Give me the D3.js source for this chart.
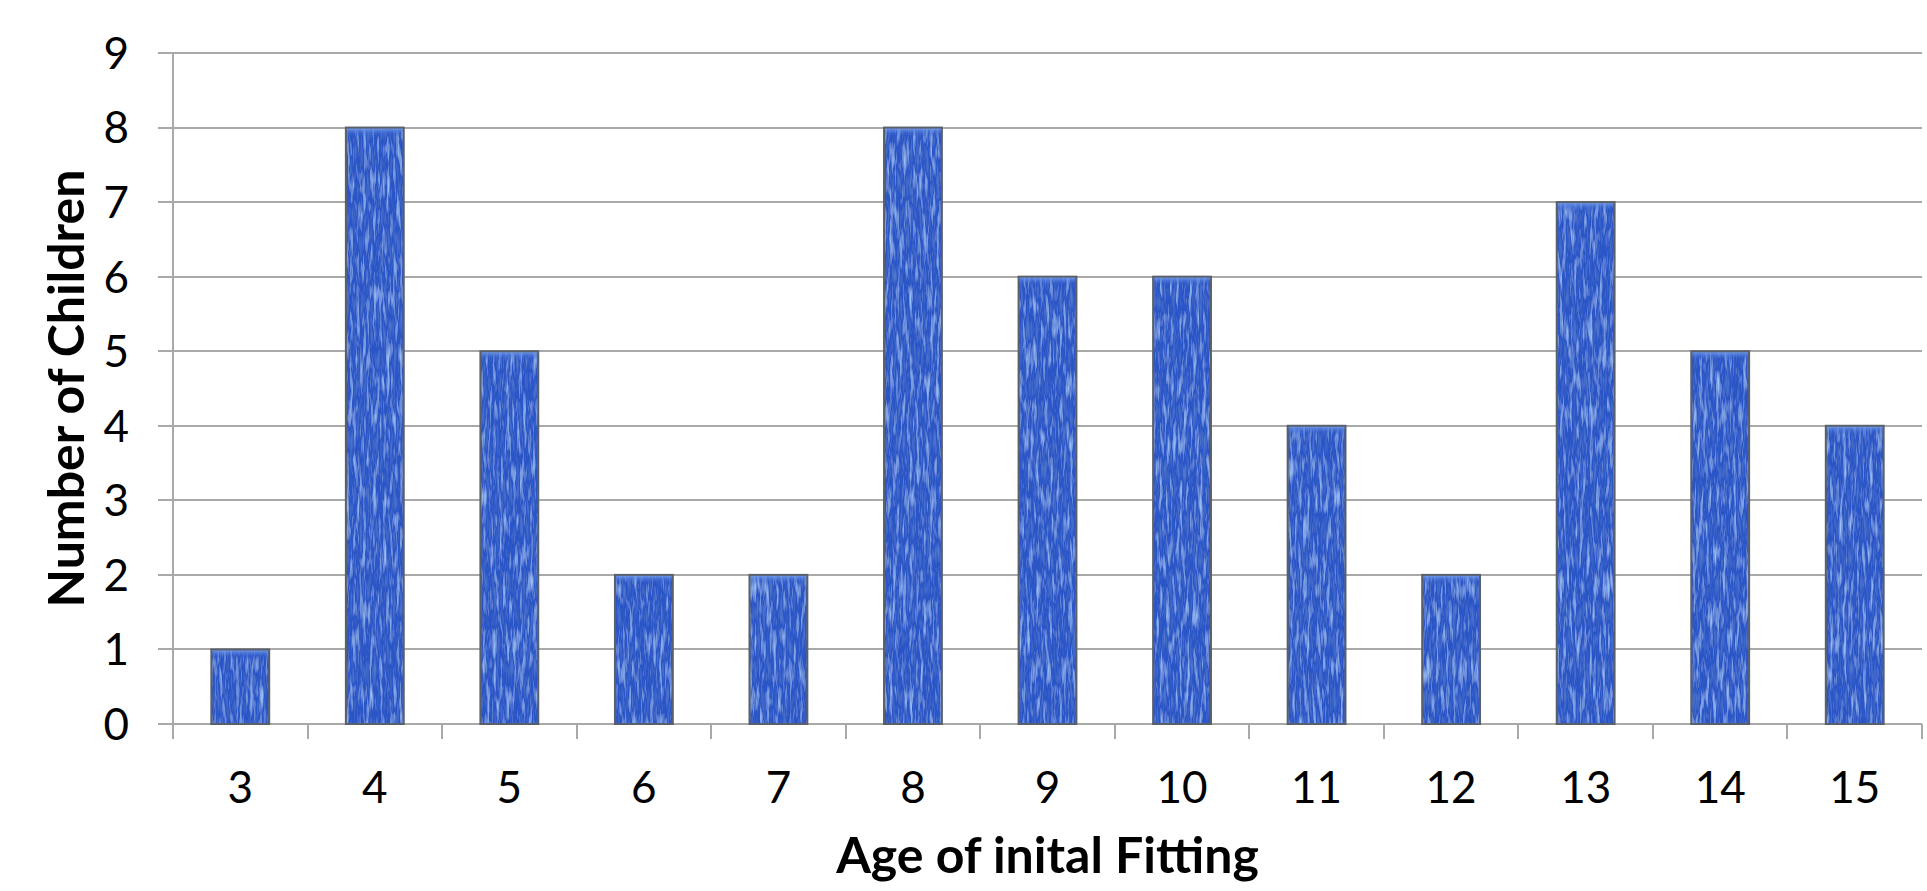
<!DOCTYPE html>
<html lang="en">
<head>
    <meta charset="UTF-8">
    <title>Age of initial fitting</title>
    <script src="https://d3js.org/d3.v7.min.js"></script>
    <style>
        body {
            margin: 0;
            overflow: hidden;
            background: #fff;
        }
        svg {
            display: block;
        }
        .grid-line, .axis-line, .tick-mark {
            stroke: #a9a9a9;
            stroke-width: 2;
            shape-rendering: crispEdges;
        }
        .tick-label {
            font-family: Lato, "Open Sans", sans-serif;
            font-size: 44px;
            fill: #000;
        }
        .axis-title {
            font-family: Lato, "Open Sans", sans-serif;
            font-weight: bold;
            font-size: 50px;
            fill: #000;
        }
    </style>
</head>
<body>
    <script>
        // data
        const ages = ["3", "4", "5", "6", "7", "8", "9", "10", "11", "12", "13", "14", "15"];
        const children = [1, 8, 5, 2, 2, 8, 6, 6, 4, 2, 7, 5, 4];
        const yTicks = [0, 1, 2, 3, 4, 5, 6, 7, 8, 9];

        const width = 1927;
        const height = 891;
        const margin = {left: 173, right: 5, top: 53, bottom: 167};

        let svg = d3.select("body").append("svg")
            .attr("width", width)
            .attr("height", height);

        // bar texture
        let defs = svg.append("defs");
        let filter = defs.append("filter").attr("id", "tex")
            .attr("x", 0).attr("y", 0).attr("width", 1).attr("height", 1);
        filter.append("feTurbulence")
            .attr("type", "fractalNoise")
            .attr("baseFrequency", "0.3 0.035")
            .attr("numOctaves", 3)
            .attr("seed", 7)
            .attr("result", "noise");
        filter.append("feColorMatrix")
            .attr("in", "noise")
            .attr("type", "matrix")
            .attr("values", "0 0 0 0 0.36  0 0 0 0 0.58  0 0 0 0 0.95  2.4 0 0 0 -1.2")
            .attr("result", "light");
        filter.append("feColorMatrix")
            .attr("in", "noise")
            .attr("type", "matrix")
            .attr("values", "0 0 0 0 0.1  0 0 0 0 0.22  0 0 0 0 0.62  -2.4 0 0 0 1.1")
            .attr("result", "dark");
        filter.append("feComposite").attr("in", "light").attr("in2", "SourceGraphic").attr("operator", "in").attr("result", "light2");
        filter.append("feComposite").attr("in", "dark").attr("in2", "SourceGraphic").attr("operator", "in").attr("result", "dark2");
        let merge = filter.append("feMerge");
        merge.append("feMergeNode").attr("in", "SourceGraphic");
        merge.append("feMergeNode").attr("in", "dark2");
        merge.append("feMergeNode").attr("in", "light2");

        let topGrad = defs.append("linearGradient").attr("id", "topShine")
            .attr("x1", 0).attr("y1", 0).attr("x2", 0).attr("y2", 1);
        topGrad.append("stop").attr("offset", "0%").attr("stop-color", "#7ba3ee");
        topGrad.append("stop").attr("offset", "100%").attr("stop-color", "#2b58c9").attr("stop-opacity", 0);

        let x = d3.scaleBand()
            .domain(ages)
            .range([margin.left, width - margin.right])
            .paddingInner(0.57)
            .paddingOuter(0.285);

        let y = d3.scaleLinear()
            .domain([0, 9])
            .range([height - margin.bottom, margin.top]);

        // grid lines
        svg.append("g").selectAll("line")
            .data(yTicks)
            .enter().append("line")
            .attr("class", "grid-line")
            .attr("x1", margin.left - 15)
            .attr("x2", width - margin.right)
            .attr("y1", d => Math.round(y(d)))
            .attr("y2", d => Math.round(y(d)));

        // y axis line
        svg.append("line")
            .attr("class", "axis-line")
            .attr("x1", margin.left).attr("x2", margin.left)
            .attr("y1", y(9)).attr("y2", y(0) + 15);

        // x tick marks at category boundaries
        let step = x.step();
        svg.append("g").selectAll("line")
            .data(ages)
            .enter().append("line")
            .attr("class", "tick-mark")
            .attr("x1", d => Math.round(x(d) + x.bandwidth() / 2 + step / 2))
            .attr("x2", d => Math.round(x(d) + x.bandwidth() / 2 + step / 2))
            .attr("y1", y(0))
            .attr("y2", y(0) + 15);

        // y tick labels
        svg.append("g").selectAll("text")
            .data(yTicks)
            .enter().append("text")
            .attr("class", "tick-label")
            .attr("x", 129)
            .attr("y", d => y(d))
            .attr("dy", "0.36em")
            .attr("text-anchor", "end")
            .text(d => d);

        // x tick labels
        svg.append("g").selectAll("text")
            .data(ages)
            .enter().append("text")
            .attr("class", "tick-label")
            .attr("x", d => x(d) + x.bandwidth() / 2)
            .attr("y", 787)
            .attr("dy", "0.36em")
            .attr("text-anchor", "middle")
            .text(d => d);

        // bars
        let bars = svg.append("g").selectAll("g")
            .data(ages.map((a, i) => ({age: a, n: children[i]})))
            .enter().append("g");

        bars.append("rect")
            .attr("x", d => x(d.age))
            .attr("y", d => y(d.n))
            .attr("width", x.bandwidth())
            .attr("height", d => y(0) - y(d.n))
            .attr("fill", "#2b55c6")
            .attr("filter", "url(#tex)");

        bars.append("rect")
            .attr("x", d => x(d.age))
            .attr("y", d => y(d.n))
            .attr("width", x.bandwidth())
            .attr("height", 9)
            .attr("fill", "url(#topShine)");

        bars.append("rect")
            .attr("x", d => x(d.age))
            .attr("y", d => y(d.n))
            .attr("width", x.bandwidth())
            .attr("height", d => y(0) - y(d.n))
            .attr("fill", "none")
            .attr("stroke", "#5a606b")
            .attr("stroke-width", 2);

        // axis titles
        svg.append("text")
            .attr("class", "axis-title")
            .attr("x", (margin.left + width - margin.right) / 2)
            .attr("y", 873)
            .attr("text-anchor", "middle")
            .text("Age of inital Fitting");

        svg.append("text")
            .attr("class", "axis-title")
            .attr("transform", `translate(84,${(y(0) + y(9)) / 2}) rotate(-90)`)
            .attr("text-anchor", "middle")
            .text("Number of Children");
    </script>
</body>
</html>
